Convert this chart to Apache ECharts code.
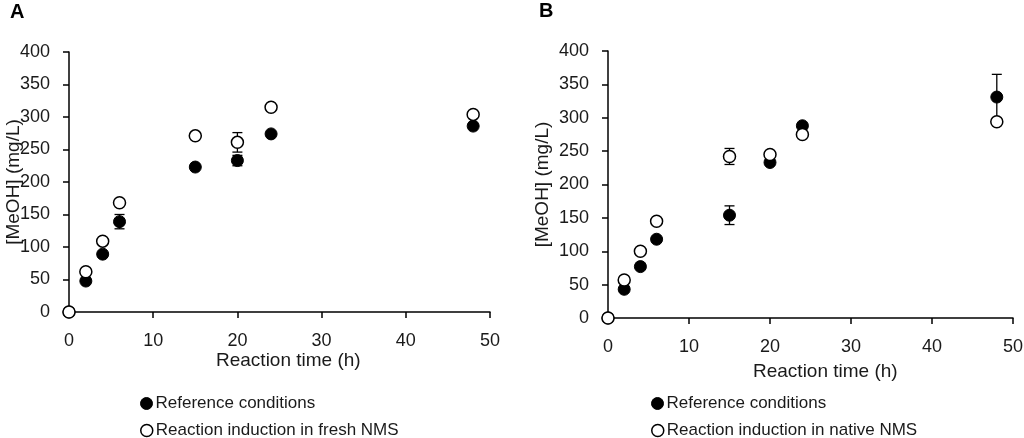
<!DOCTYPE html>
<html><head><meta charset="utf-8">
<script src="https://cdn.jsdelivr.net/npm/echarts@6/dist/echarts.min.js"></script>
<style>html,body{margin:0;padding:0;background:#fff}#c{width:1024px;height:438px}</style>
</head><body><div id="c"></div>
<script>
// Data
const timeA = [0, 2, 4, 6, 15, 20, 24, 48];
const refA = [0, 47.6, 89, 139, 223, 233, 274, 286];
const refAErr = [0, 0, 0, 11, 0, 8, 0, 0];
const freshA = [0, 62, 109, 168, 271, 261, 315, 304];
const freshAErr = [0, 0, 0, 0, 0, 15, 0, 0];

const timeB = [0, 2, 4, 6, 15, 20, 24, 48];
const refB = [0, 43, 77, 118, 154, 233, 288, 331];
const refBErr = [0, 0, 0, 0, 14, 0, 0, 34];
const nativeB = [0, 57, 100, 145, 242, 245, 275, 294];
const nativeBErr = [0, 0, 0, 0, 12, 0, 0, 0];

const xTicks = [0, 10, 20, 30, 40, 50];
const yTicks = [0, 50, 100, 150, 200, 250, 300, 350, 400];

const nameRef = 'Reference conditions';
const nameFresh = 'Reaction induction in fresh NMS';
const nameNative = 'Reaction induction in native NMS';

const FONT = '"Liberation Sans", Arial, sans-serif';
const TXT = '#1a1a1a';

function pairs(xs, ys) { return xs.map((x, i) => [x, ys[i]]); }
function errData(xs, ys, es) {
  const out = [];
  xs.forEach((x, i) => { if (es[i] > 0) out.push([x, ys[i] - es[i], ys[i] + es[i]]); });
  return out;
}
function errSeries(idx, data) {
  return {
    type: 'custom', xAxisIndex: idx, yAxisIndex: idx, z: 1, silent: true,
    data: data,
    renderItem: function (params, api) {
      const x = api.value(0);
      const lo = api.coord([x, api.value(1)]);
      const hi = api.coord([x, api.value(2)]);
      const w = 5;
      const st = { stroke: '#000', lineWidth: 1.3 };
      return { type: 'group', children: [
        { type: 'line', shape: { x1: lo[0], y1: lo[1], x2: hi[0], y2: hi[1] }, style: st },
        { type: 'line', shape: { x1: hi[0] - w, y1: hi[1], x2: hi[0] + w, y2: hi[1] }, style: st },
        { type: 'line', shape: { x1: lo[0] - w, y1: lo[1], x2: lo[0] + w, y2: lo[1] }, style: st }
      ]};
    }
  };
}
function xAxis(idx, margin) {
  return {
    type: 'value', gridIndex: idx, min: 0, max: 50, interval: 10,
    axisLine: { show: true, lineStyle: { color: '#000', width: 1.5 } },
    axisTick: { show: true, length: 6, lineStyle: { color: '#000', width: 1.5 } },
    axisLabel: { margin: margin, fontSize: 18, color: TXT, fontFamily: FONT,
      formatter: v => xTicks.indexOf(v) >= 0 ? String(v) : '' },
    splitLine: { show: false }
  };
}
function yAxis(idx, gap) {
  return {
    type: 'value', gridIndex: idx, min: 0, max: 400, interval: 50,
    name: '[MeOH] (mg/L)', nameLocation: 'middle', nameGap: gap, nameMoveOverlap: false,
    nameTextStyle: { fontSize: 19, color: TXT, fontFamily: FONT },
    axisLine: { show: true, lineStyle: { color: '#000', width: 1.5 } },
    axisTick: { show: true, length: 6, lineStyle: { color: '#000', width: 1.5 } },
    axisLabel: { margin: 19, fontSize: 18, color: TXT, fontFamily: FONT,
      formatter: v => yTicks.indexOf(v) >= 0 ? String(v) : '' },
    splitLine: { show: false }
  };
}
const filled = { color: '#000', borderColor: '#000', borderWidth: 1, opacity: 1 };
const open = { color: '#fff', borderColor: '#000', borderWidth: 1.5, opacity: 1 };

function oneLegend(left, top, name, style) {
  return { left: left, top: top, itemWidth: 12, itemHeight: 12, itemGap: 4,
    selectedMode: false,
    textStyle: { fontSize: 17, color: TXT, fontFamily: FONT, padding: [0, 0, 0, -2] },
    data: [{ name: name, icon: 'circle', itemStyle: style }] };
}

const chart = echarts.init(document.getElementById('c'), null, { renderer: 'canvas' });
chart.setOption({
  animation: false,
  backgroundColor: '#fff',
  grid: [
    { left: 69, top: 52, width: 421, height: 260, outerBoundsMode: 'none', containLabel: false },
    { left: 608, top: 51, width: 405, height: 267, outerBoundsMode: 'none', containLabel: false }
  ],
  xAxis: [xAxis(0, 20), xAxis(1, 20)],
  yAxis: [yAxis(0, 46), yAxis(1, 56)],
  legend: [
    oneLegend(135, 390, nameRef, filled),
    oneLegend(135, 417, nameFresh, open),
    oneLegend(646, 390, nameRef, filled),
    oneLegend(646, 417, nameNative, open)
  ],
  graphic: [
    { type: 'text', left: 10, top: 2, style: { text: 'A', font: 'bold 20px ' + FONT, fill: '#000' } },
    { type: 'text', left: 539, top: 1, style: { text: 'B', font: 'bold 20px ' + FONT, fill: '#000' } },
    { type: 'text', left: 216, top: 351, style: { text: 'Reaction time (h)', font: '19px ' + FONT, fill: TXT } },
    { type: 'text', left: 753, top: 362, style: { text: 'Reaction time (h)', font: '19px ' + FONT, fill: TXT } }
  ],
  series: [
    errSeries(0, errData(timeA, refA, refAErr)),
    errSeries(0, errData(timeA, freshA, freshAErr)),
    { name: nameRef, type: 'scatter', xAxisIndex: 0, yAxisIndex: 0, symbol: 'circle', symbolSize: 12, z: 3,
      itemStyle: filled, data: pairs(timeA, refA) },
    { name: nameFresh, type: 'scatter', xAxisIndex: 0, yAxisIndex: 0, symbol: 'circle', symbolSize: 12, z: 4,
      itemStyle: open, data: pairs(timeA, freshA) },
    errSeries(1, errData(timeB, refB, refBErr)),
    errSeries(1, errData(timeB, nativeB, nativeBErr)),
    { name: nameRef, type: 'scatter', xAxisIndex: 1, yAxisIndex: 1, symbol: 'circle', symbolSize: 12, z: 3,
      itemStyle: filled, data: pairs(timeB, refB) },
    { name: nameNative, type: 'scatter', xAxisIndex: 1, yAxisIndex: 1, symbol: 'circle', symbolSize: 12, z: 4,
      itemStyle: open, data: pairs(timeB, nativeB) }
  ]
});
</script></body></html>
